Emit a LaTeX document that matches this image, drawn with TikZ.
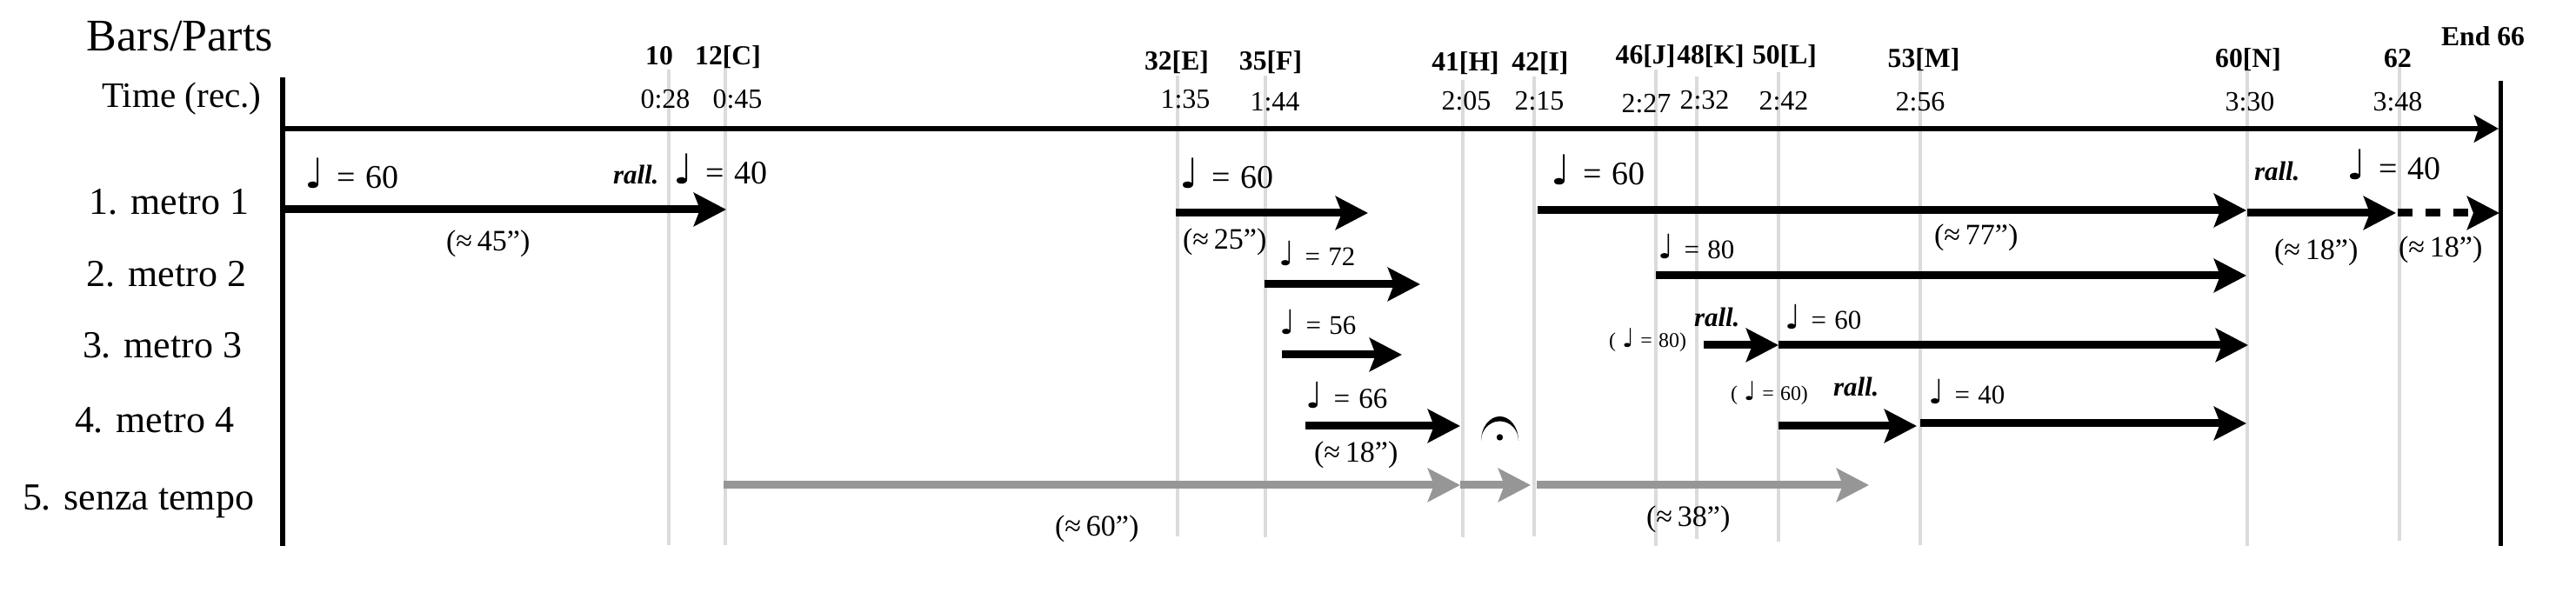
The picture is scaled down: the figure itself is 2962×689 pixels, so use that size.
\documentclass[tikz,border=0pt]{standalone}
\usepackage{graphicx}
\usepackage{fontspec}
\setmainfont{Liberation Serif}
\newfontfamily\dv{DejaVu Sans}
\usetikzlibrary{arrows.meta}
\newcommand\qn{{\dv\scalebox{1.25}{♩}}}
\newcommand\fs[1]{\fontsize{#1}{#1}\selectfont}
\newcommand\tempo[1]{\qn\hspace{0.4em}=\hspace{0.3em}#1}
\newcommand\stempo[1]{(\hspace{0.3em}\qn\hspace{0.3em}=\hspace{0.3em}#1)}
\newcommand\dur[1]{(≈\,#1”)}
\begin{document}
\begin{tikzpicture}[x=0.01cm,y=-0.01cm,
  lbl/.style={inner sep=0,outer sep=0,anchor=base west},
  clbl/.style={inner sep=0,outer sep=0,anchor=base},
  title/.style={lbl,font=\fs{14.8pt}},
  hdr/.style={lbl,font=\fs{11.7pt}},
  rowlbl/.style={lbl,font=\fs{12.5pt}},
  barlbl/.style={clbl,font=\bfseries\fs{9pt}},
  timelbl/.style={clbl,font=\fs{9.1pt}},
  bigtempo/.style={lbl,font=\fs{10.8pt}},
  midtempo/.style={lbl,font=\fs{8.8pt}},
  smalltempo/.style={lbl,font=\fs{6.8pt}},
  rallmark/.style={lbl,font=\bfseries\itshape\fs{8.8pt}},
  durlbl/.style={lbl,font=\fs{9.7pt}},
  barline/.style={draw=black!14,line width=0.04cm},
  axisline/.style={draw=black,line width=0.06cm},
  blackarrow/.style={draw=black,line width=0.09cm,-{Stealth[length=0.37cm,width=0.38cm,inset=0.07cm]}},
  grayarrow/.style={blackarrow,draw=black!41},
  timearrow/.style={axisline,-{Stealth[length=0.28cm,width=0.31cm,inset=0.05cm]}}
]
\useasboundingbox (0,0) rectangle (2962,689);

% bar lines
\draw[barline] (769,80) -- (769,627);
\draw[barline] (834,55) -- (834,627);
\draw[barline] (1354,87) -- (1354,617);
\draw[barline] (1455,87) -- (1455,618);
\draw[barline] (1682,92) -- (1682,618);
\draw[barline] (1764,88) -- (1764,617);
\draw[barline] (1904,80) -- (1904,628);
\draw[barline] (1951,88) -- (1951,620);
\draw[barline] (2045,83) -- (2045,623);
\draw[barline] (2208,80) -- (2208,627);
\draw[barline] (2584,82) -- (2584,628);
\draw[barline] (2759,72) -- (2759,622);

% axes
\coordinate (axtop) at (325,89);
\coordinate (axbot) at (325,628);
\coordinate (endtop) at (2875,93);
\coordinate (endbot) at (2875,628);
\coordinate (ta0) at (325,148);
\coordinate (ta1) at (2873,148);
\draw[axisline] (axtop) -- (axbot);
\draw[draw=black,line width=0.05cm] (endtop) -- (endbot);
\draw[timearrow] (ta0) -- (ta1);

% metro 1
\coordinate (a1s) at (325,241);  \coordinate (a1e) at (835,241);
\coordinate (a2s) at (1352,245); \coordinate (a2e) at (1573,245);
\coordinate (a3s) at (1768,242); \coordinate (a3e) at (2583,242);
\coordinate (a4s) at (2584,245); \coordinate (a4e) at (2755,245);
\coordinate (a5s) at (2757,245); \coordinate (a5e) at (2874,245);
\draw[blackarrow] (a1s) -- (a1e);
\draw[blackarrow] (a2s) -- (a2e);
\draw[blackarrow] (a3s) -- (a3e);
\draw[blackarrow] (a4s) -- (a4e);
\draw[blackarrow,dash pattern=on 0.17cm off 0.15cm] (a5s) -- (a5e);

% metro 2
\coordinate (b1s) at (1454,327); \coordinate (b1e) at (1633,327);
\coordinate (b2s) at (1904,317); \coordinate (b2e) at (2583,317);
\draw[blackarrow] (b1s) -- (b1e);
\draw[blackarrow] (b2s) -- (b2e);

% metro 3
\coordinate (c1s) at (1474,408); \coordinate (c1e) at (1612,408);
\coordinate (c2s) at (1959,397); \coordinate (c2e) at (2045,397);
\coordinate (c3e) at (2585,397);
\draw[blackarrow] (c1s) -- (c1e);
\draw[blackarrow] (c2s) -- (c2e);
\draw[blackarrow] (c2e) -- (c3e);

% metro 4
\coordinate (d1s) at (1501,490); \coordinate (d1e) at (1679,490);
\coordinate (d2s) at (2045,490); \coordinate (d2e) at (2204,490);
\coordinate (d3s) at (2208,487); \coordinate (d3e) at (2583,487);
\draw[blackarrow] (d1s) -- (d1e);
\draw[blackarrow] (d2s) -- (d2e);
\draw[blackarrow] (d3s) -- (d3e);

% senza tempo
\coordinate (g1s) at (832,558); \coordinate (g1e) at (1679,558);
\coordinate (g2e) at (1760,558);
\coordinate (g3s) at (1767,558); \coordinate (g3e) at (2149,558);
\draw[grayarrow] (g1s) -- (g1e);
\draw[grayarrow] (g1e) -- (g2e);
\draw[grayarrow] (g3s) -- (g3e);

% fermata
\fill (1703,507) arc[start angle=180,end angle=0,x radius=0.215cm,y radius=0.28cm]
  arc[start angle=0,end angle=180,x radius=0.215cm,y radius=0.225cm] -- cycle;
\fill (1724.5,503) circle[radius=0.037cm];

% headings
\node[title] (title) at (100,59) {Bars/Parts};
\node[hdr] (timehdr) at (117,124) {Time (rec.)};
\node[rowlbl] (r1) at (103,247) {1. metro 1};
\node[rowlbl] (r2) at (100,330) {2. metro 2};
\node[rowlbl] (r3) at (95,412) {3. metro 3};
\node[rowlbl] (r4) at (86,498) {4. metro 4};
\node[rowlbl] (r5) at (26,587) {5. senza tempo};

% bar labels
\node[barlbl] (l10) at (758,75) {10};
\node[barlbl] (l12) at (837,75) {12[C]};
\node[barlbl] (l32) at (1353,81) {32[E]};
\node[barlbl] (l35) at (1461,81) {35[F]};
\node[barlbl] (l41) at (1685,82) {41[H]};
\node[barlbl] (l42) at (1771,82) {42[I]};
\node[barlbl] (l46) at (1892,74) {46[J]};
\node[barlbl] (l48) at (1967,74) {48[K]};
\node[barlbl] (l50) at (2052,74) {50[L]};
\node[barlbl] (l53) at (2212,78) {53[M]};
\node[barlbl] (l60) at (2585,78) {60[N]};
\node[barlbl] (l62) at (2757,78) {62};
\node[barlbl] (lend) at (2855,53) {End 66};

% time labels
\node[timelbl] (t028) at (765,125) {0:28};
\node[timelbl] (t045) at (848,125) {0:45};
\node[timelbl] (t135) at (1363,125) {1:35};
\node[timelbl] (t144) at (1466,128) {1:44};
\node[timelbl] (t205) at (1686,127) {2:05};
\node[timelbl] (t215) at (1770,127) {2:15};
\node[timelbl] (t227) at (1893,130) {2:27};
\node[timelbl] (t232) at (1960,126) {2:32};
\node[timelbl] (t242) at (2051,127) {2:42};
\node[timelbl] (t256) at (2208,128) {2:56};
\node[timelbl] (t330) at (2587,128) {3:30};
\node[timelbl] (t348) at (2757,128) {3:48};

% tempo marks, metro 1
\node[bigtempo] (m1a) at (350,217) {\tempo{60}};
\node[rallmark] (m1r) at (705,212) {rall.};
\node[bigtempo] (m1b) at (774,212) {\tempo{40}};
\node[bigtempo] (m1c) at (1356,217) {\tempo{60}};
\node[bigtempo] (m1d) at (1783,213) {\tempo{60}};
\node[rallmark] (m1r2) at (2592,208) {rall.};
\node[bigtempo] (m1e) at (2698,207) {\tempo{40}};

% metro 2-4
\node[midtempo] (m2a) at (1470,306) {\tempo{72}};
\node[midtempo] (m2b) at (1906,298) {\tempo{80}};
\node[midtempo] (m3a) at (1471,385) {\tempo{56}};
\node[smalltempo] (m3s) at (1850,400) {\stempo{80}};
\node[rallmark] (m3r) at (1948,376) {rall.};
\node[midtempo] (m3b) at (2052,379) {\tempo{60}};
\node[lbl,font=\fs{9.4pt}] (m4a) at (1501,470) {\tempo{66}};
\node[smalltempo] (m4s) at (1990,461) {\stempo{60}};
\node[rallmark] (m4r) at (2108,456) {rall.};
\node[midtempo] (m4b) at (2217,465) {\tempo{40}};

% durations
\node[durlbl] (d45) at (513,289) {\dur{45}};
\node[durlbl] (d25) at (1360,287) {\dur{25}};
\node[durlbl] (d77) at (2224,282) {\dur{77}};
\node[durlbl] (d18a) at (2615,299) {\dur{18}};
\node[durlbl] (d18b) at (2758,296) {\dur{18}};
\node[durlbl] (d18c) at (1511,532) {\dur{18}};
\node[durlbl] (d60) at (1213,617) {\dur{60}};
\node[durlbl] (d38) at (1893,606) {\dur{38}};
\end{tikzpicture}
\end{document}
